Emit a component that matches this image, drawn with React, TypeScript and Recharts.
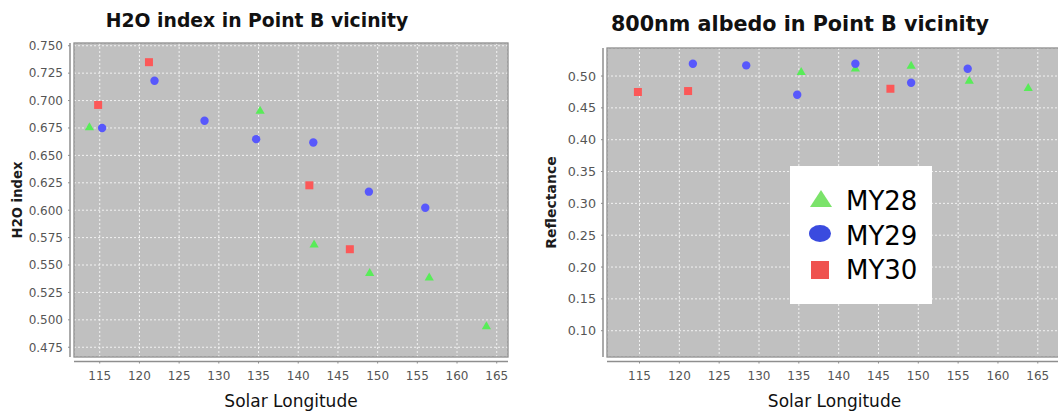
import * as Recharts from "recharts";
import { CartesianGrid, Legend, Scatter, ScatterChart, XAxis, YAxis } from "recharts";

// Solar longitude ticks shared by both panels
const LS_TICKS = [115, 120, 125, 130, 135, 140, 145, 150, 155, 160, 165];
const H2O_TICKS = [0.475, 0.5, 0.525, 0.55, 0.575, 0.6, 0.625, 0.65, 0.675, 0.7, 0.725, 0.75];
const REFL_TICKS = [0.1, 0.15, 0.2, 0.25, 0.3, 0.35, 0.4, 0.45, 0.5];

const SERIES_NAMES = ["MY28", "MY29", "MY30"];

// H2O index panel
const h2oMY28Ls = [113.7, 135.2, 142.0, 149.0, 156.5, 163.7];
const h2oMY28Index = [0.676, 0.691, 0.569, 0.543, 0.539, 0.4945];
const h2oMY29Ls = [115.3, 121.9, 128.2, 134.7, 141.9, 148.9, 156.0];
const h2oMY29Index = [0.675, 0.718, 0.6816, 0.6648, 0.6618, 0.6169, 0.6022];
const h2oMY30Ls = [114.8, 121.2, 141.4, 146.5];
const h2oMY30Index = [0.696, 0.735, 0.6227, 0.5644];

// 800nm albedo panel
const albMY28Ls = [135.3, 142.1, 149.1, 156.4, 163.8];
const albMY28Refl = [0.507, 0.5126, 0.5167, 0.493, 0.482];
const albMY29Ls = [121.7, 128.4, 134.8, 142.1, 149.1, 156.2];
const albMY29Refl = [0.5193, 0.5167, 0.4706, 0.5193, 0.4895, 0.5115];
const albMY30Ls = [114.8, 121.1, 146.5];
const albMY30Refl = [0.4749, 0.4764, 0.48];

type Point = { ls: number; v: number };
type Kind = "triangle" | "circle" | "square";

const zip = (ls: number[], values: number[]): Point[] => ls.map((x, i) => ({ ls: x, v: values[i] }));

const MARKER: Record<string, { kind: Kind; fill: string; legend: string }> = {
  MY28: { kind: "triangle", fill: "#58ec58", legend: "#7be36a" },
  MY29: { kind: "circle", fill: "#5858fc", legend: "#3a4bdf" },
  MY30: { kind: "square", fill: "#fc5858", legend: "#ef5350" },
};

const AXIS_GRAY = "#8e8e8e";
const TICK_TEXT = "#555555";

const usePlotArea = (Recharts as any).usePlotArea as
  | undefined
  | (() => { x: number; y: number; width: number; height: number } | undefined);

function markerShape(kind: Kind, fill: string) {
  return (props: any) => {
    const { cx, cy } = props;
    if (cx == null || cy == null) return <g />;
    if (kind === "circle") return <circle cx={cx} cy={cy} r={4.2} fill={fill} />;
    if (kind === "square") return <rect x={cx - 4} y={cy - 4} width={8} height={8} fill={fill} />;
    return <polygon points={`${cx},${cy - 4.6} ${cx + 4.6},${cy + 3.4} ${cx - 4.6},${cy + 3.4}`} fill={fill} />;
  };
}

// plot border plus the axis lines, which sit a few pixels off the data area
function PlotFrame() {
  const area = usePlotArea ? usePlotArea() : undefined;
  if (!area) return null;
  const { x, y, width, height } = area;
  return (
    <g>
      <rect x={x} y={y} width={width} height={height} fill="none" stroke={AXIS_GRAY} strokeWidth={1.3} />
      <line x1={x - 4} x2={x - 4} y1={y} y2={y + height} stroke={AXIS_GRAY} strokeWidth={1.5} />
      <line x1={x} x2={x + width} y1={y + height + 4.5} y2={y + height + 4.5} stroke={AXIS_GRAY} strokeWidth={1.5} />
    </g>
  );
}

function XTick(props: any) {
  const { x, y, payload } = props;
  return (
    <g>
      <line x1={x} x2={x} y1={y - 1.5} y2={y + 0.5} stroke={AXIS_GRAY} />
      <text x={x} y={y + 17} textAnchor="middle" fill={TICK_TEXT} fontSize={12}>
        {payload.value}
      </text>
    </g>
  );
}

function YTick(props: any) {
  const { x, y, payload, digits, fontSize } = props;
  return (
    <g>
      <line x1={x} x2={x + 2} y1={y} y2={y} stroke={AXIS_GRAY} />
      <text x={x - 5} y={y} dy={fontSize * 0.36} textAnchor="end" fill={TICK_TEXT} fontSize={fontSize}>
        {Number(payload.value).toFixed(digits)}
      </text>
    </g>
  );
}

function XTitle(props: any) {
  const { viewBox } = props;
  if (!viewBox) return null;
  return (
    <text x={viewBox.x + viewBox.width / 2} y={viewBox.y + 50} textAnchor="middle" fontSize={17} fill="#111">
      Solar Longitude
    </text>
  );
}

function YTitle(props: any) {
  const { viewBox, text, dx, size } = props;
  if (!viewBox) return null;
  const cx = viewBox.x + dx;
  const cy = viewBox.y + viewBox.height / 2;
  return (
    <text
      x={cx}
      y={cy}
      dy="0.36em"
      transform={`rotate(-90, ${cx}, ${cy})`}
      textAnchor="middle"
      fontWeight="bold"
      fontSize={size}
      fill="#1c1c1c"
    >
      {text}
    </text>
  );
}

function LegendBox(props: any) {
  const payload: any[] = props.payload ?? [];
  return (
    <div style={{ width: 142, height: 138, background: "#fff", boxSizing: "border-box", paddingTop: 18 }}>
      {payload.map((entry) => {
        const m = MARKER[entry.value];
        return (
          <div key={entry.value} style={{ display: "flex", alignItems: "center", height: 34.5 }}>
            <svg width={56} height={34.5} style={{ flex: "none" }}>
              {m.kind === "triangle" ? (
                <polygon points="31,6 42,23 20,23" fill={m.legend} />
              ) : m.kind === "circle" ? (
                <ellipse cx={30} cy={14.5} rx={11} ry={8.5} fill={m.legend} />
              ) : (
                <rect x={21} y={8} width={18} height={18} fill={m.legend} />
              )}
            </svg>
            <span style={{ fontSize: 26, lineHeight: "34.5px", color: "#000" }}>{entry.value}</span>
          </div>
        );
      })}
    </div>
  );
}

type PanelProps = {
  width: number;
  top: number;
  yAxisWidth: number;
  xDomain: [number, number];
  yDomain: [number, number];
  yTicks: number[];
  digits: number;
  yTickSize: number;
  yTitle: string;
  yTitleX: number;
  yTitleSize: number;
  series: Point[][];
  showLegend?: boolean;
};

function Panel({
  width,
  top,
  yAxisWidth,
  xDomain,
  yDomain,
  yTicks,
  digits,
  yTickSize,
  yTitle,
  yTitleX,
  yTitleSize,
  series,
  showLegend = false,
}: PanelProps) {
  return (
    <ScatterChart width={width} height={413} margin={{ top, right: 20, left: 0, bottom: 0 }}>
      <CartesianGrid fill="#c0c0c0" fillOpacity={1} stroke="#f2f2f2" strokeDasharray="2 2" />
      <XAxis
        type="number"
        dataKey="ls"
        domain={xDomain}
        ticks={LS_TICKS}
        interval={0}
        allowDataOverflow
        height={56}
        tickSize={6}
        tickMargin={0}
        tickLine={false}
        axisLine={false}
        tick={<XTick />}
        label={<XTitle />}
      />
      <YAxis
        type="number"
        dataKey="v"
        domain={yDomain}
        ticks={yTicks}
        interval={0}
        allowDataOverflow
        width={yAxisWidth}
        tickSize={6}
        tickMargin={0}
        tickLine={false}
        axisLine={false}
        tick={<YTick digits={digits} fontSize={yTickSize} />}
        label={<YTitle text={yTitle} dx={yTitleX} size={yTitleSize} />}
      />
      <PlotFrame />
      {SERIES_NAMES.map((name, i) => (
        <Scatter
          key={name}
          name={name}
          data={series[i]}
          fill={MARKER[name].fill}
          shape={markerShape(MARKER[name].kind, MARKER[name].fill)}
          isAnimationActive={false}
        />
      ))}
      {showLegend ? (
        <Legend
          layout="horizontal"
          verticalAlign="middle"
          align="center"
          wrapperStyle={{ left: 262, top: 166, width: 142, height: 138 }}
          content={<LegendBox />}
        />
      ) : null}
    </ScatterChart>
  );
}

export default function App() {
  const h2oSeries = [zip(h2oMY28Ls, h2oMY28Index), zip(h2oMY29Ls, h2oMY29Index), zip(h2oMY30Ls, h2oMY30Index)];
  const albSeries = [zip(albMY28Ls, albMY28Refl), zip(albMY29Ls, albMY29Refl), zip(albMY30Ls, albMY30Refl)];

  return (
    <div
      style={{
        position: "absolute",
        left: 0,
        top: 0,
        width: 1058,
        height: 413,
        overflow: "hidden",
        background: "#fff",
        fontFamily: "'DejaVu Sans', sans-serif",
      }}
    >
      <div style={{ position: "absolute", left: 0, top: 0 }}>
        <Panel
          width={528}
          top={43}
          yAxisWidth={74}
          xDomain={[111.76, 166.42]}
          yDomain={[0.4661, 0.7525]}
          yTicks={H2O_TICKS}
          digits={3}
          yTickSize={12}
          yTitle="H2O index"
          yTitleX={17}
          yTitleSize={13.2}
          series={h2oSeries}
        />
      </div>
      <div style={{ position: "absolute", left: 528, top: 0 }}>
        <Panel
          width={554}
          top={48}
          yAxisWidth={79}
          xDomain={[110.92, 168.04]}
          yDomain={[0.0587, 0.544]}
          yTicks={REFL_TICKS}
          digits={2}
          yTickSize={12.7}
          yTitle="Reflectance"
          yTitleX={23}
          yTitleSize={14}
          series={albSeries}
          showLegend
        />
      </div>
      <div
        style={{
          position: "absolute",
          left: 0,
          top: 9.5,
          width: 514,
          textAlign: "center",
          fontSize: 18.8,
          lineHeight: "22px",
          fontWeight: "bold",
          color: "#111",
        }}
      >
        H2O index in Point B vicinity
      </div>
      <div
        style={{
          position: "absolute",
          left: 600,
          top: 11.9,
          width: 400,
          textAlign: "center",
          fontSize: 20.7,
          lineHeight: "24px",
          fontWeight: "bold",
          color: "#111",
        }}
      >
        800nm albedo in Point B vicinity
      </div>
    </div>
  );
}
